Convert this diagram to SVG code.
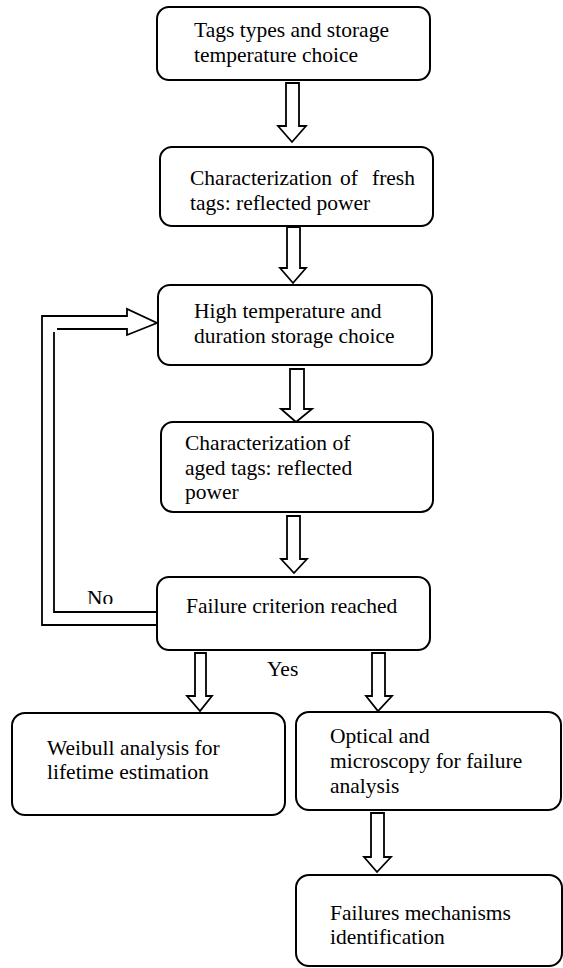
<svg xmlns="http://www.w3.org/2000/svg" width="563" height="968" viewBox="0 0 563 968">
<style>
.box{fill:#fff;stroke:#000;stroke-width:2}
.arr{fill:#fff;stroke:#000;stroke-width:1.8;stroke-linejoin:miter}
.fb{fill:none;stroke:#000;stroke-width:1.8}
text{font-family:"Liberation Serif","Times New Roman",serif;font-size:21.5px;fill:#000}
</style>
<defs>
<clipPath id="noclip"><rect x="70" y="570" width="80" height="34"/></clipPath>
</defs>
<rect width="563" height="968" fill="#fff"/>
<g id="connectors">
<polygon class="arr" points="286,83 299,83 299,126 306,126 292,142 278,126 286,126"/>
<polygon class="arr" points="287,227 300,227 300,268 306,268 293,283 280,268 287,268"/>
<polygon class="arr" points="290,369 304,369 304,409 312,409 296,422 281,409 290,409"/>
<polygon class="arr" points="287,516 300,516 300,559 307,559 294,573 281,559 287,559"/>
<polygon class="arr" points="195,653 206,653 206,696 212,696 200,711 187,696 195,696"/>
<polygon class="arr" points="372,653 385,653 385,696 392,696 378,711 366,696 372,696"/>
<polygon class="arr" points="371,813 384,813 384,857 391,857 377,872 364,857 371,857"/>
<path class="fb" d="M157,625 H42 V316 H127 V309 L157,323 L127,335 V329 H57"/>
<path class="fb" d="M54,332 V612 H157"/>
</g>
<g id="n1">
<rect class="box" x="157" y="7" width="273" height="73" rx="12"/>
<text x="194" y="37">Tags types and storage</text>
<text x="194" y="62">temperature choice</text>
</g>
<g id="n2">
<rect class="box" x="160" y="147" width="273" height="79" rx="12"/>
<text y="185"><tspan x="190">Characterization</tspan><tspan x="340">of</tspan><tspan x="372">fresh</tspan></text>
<text x="190" y="210">tags: reflected power</text>
</g>
<g id="n3">
<rect class="box" x="158" y="285" width="274" height="80" rx="12"/>
<text x="194" y="318">High temperature and</text>
<text x="194" y="343">duration storage choice</text>
</g>
<g id="n4">
<rect class="box" x="161" y="422" width="272" height="90" rx="12"/>
<text x="185" y="450">Characterization of</text>
<text x="185" y="475">aged tags: reflected</text>
<text x="185" y="499">power</text>
</g>
<g id="n5">
<rect class="box" x="157" y="577" width="273" height="73" rx="12"/>
<text x="186" y="613">Failure criterion reached</text>
</g>
<g id="labels">
<text x="87" y="604.5" clip-path="url(#noclip)">No</text>
<text x="267" y="676">Yes</text>
</g>
<g id="n6">
<rect class="box" x="12" y="713" width="273" height="102" rx="13"/>
<text x="47" y="755">Weibull analysis for</text>
<text x="47" y="779">lifetime estimation</text>
</g>
<g id="n7">
<rect class="box" x="296" y="712" width="265" height="98" rx="13"/>
<text x="330" y="743">Optical and</text>
<text x="330" y="768">microscopy for failure</text>
<text x="330" y="793">analysis</text>
</g>
<g id="n8">
<rect class="box" x="296" y="875" width="266" height="91" rx="13"/>
<text x="330" y="920">Failures mechanisms</text>
<text x="330" y="944">identification</text>
</g>
</svg>
